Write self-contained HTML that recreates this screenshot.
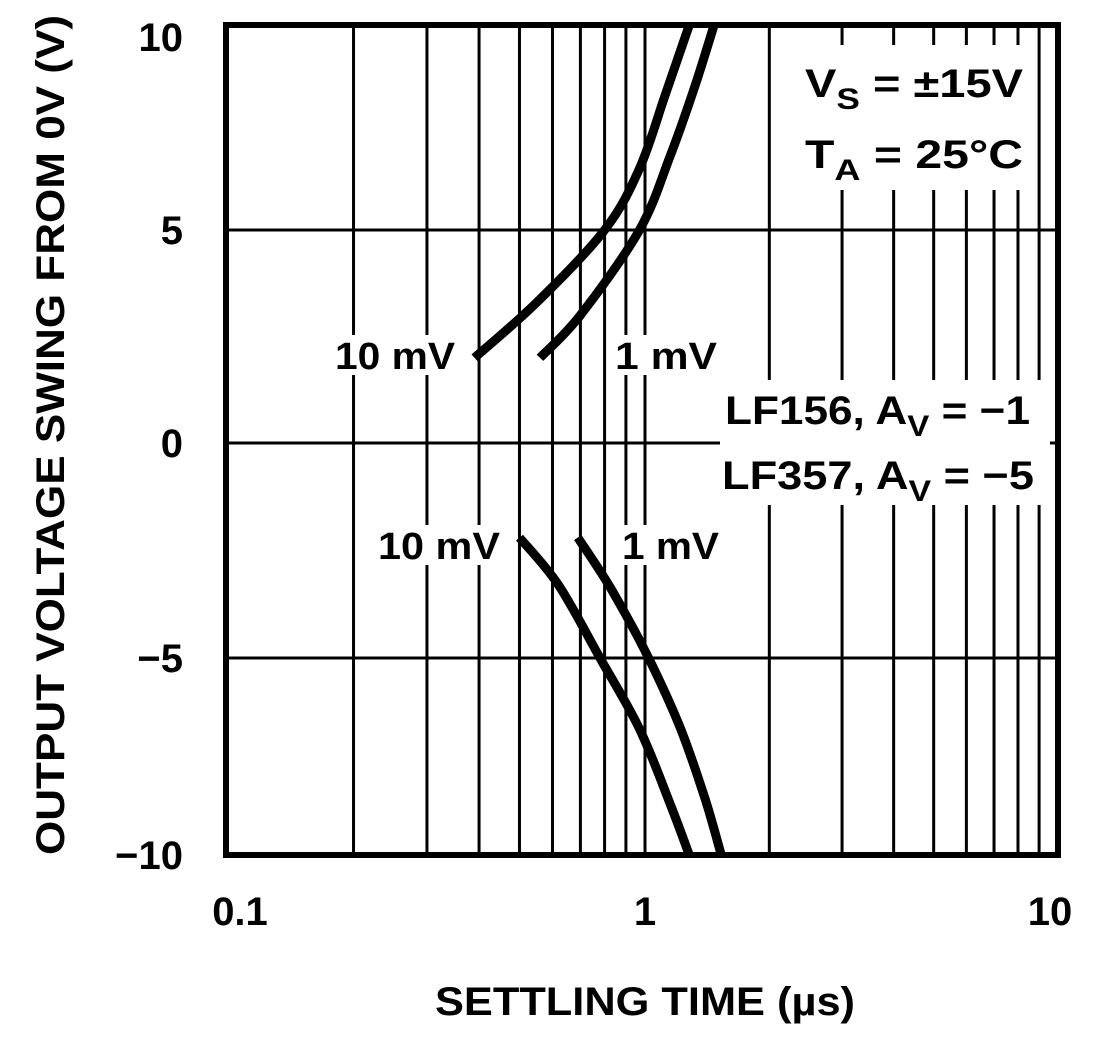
<!DOCTYPE html>
<html><head><meta charset="utf-8"><style>
html,body{margin:0;padding:0;background:#fff;}
svg text{font-family:"Liberation Sans",sans-serif;font-weight:bold;fill:#000;}
</style></head><body>
<svg id="chart" width="1104" height="1037" viewBox="0 0 1104 1037" xmlns="http://www.w3.org/2000/svg">
<g id="grid"></g>
<g id="curves"></g>
<rect x="226" y="25" width="832" height="830" fill="none" stroke="#000" stroke-width="6"/>
<g id="labels"></g>
<g id="annot">
<rect x="800" y="45" width="230" height="145" fill="#fff"/>
<text x="805" y="97" font-size="40" textLength="218" lengthAdjust="spacingAndGlyphs">V<tspan font-size="30" dy="12">S</tspan><tspan dy="-12"> = ±15V</tspan></text>
<text x="805" y="168" font-size="40" textLength="218" lengthAdjust="spacingAndGlyphs">T<tspan font-size="30" dy="12">A</tspan><tspan dy="-12"> = 25°C</tspan></text>
<rect x="720" y="380" width="330" height="125" fill="#fff"/>
<text x="725" y="424" font-size="40" textLength="305" lengthAdjust="spacingAndGlyphs">LF156, A<tspan font-size="30" dy="12">V</tspan><tspan dy="-12"> = −1</tspan></text>
<text x="722" y="489" font-size="40" textLength="312" lengthAdjust="spacingAndGlyphs">LF357, A<tspan font-size="30" dy="12">V</tspan><tspan dy="-12"> = −5</tspan></text>
<rect x="330" y="335" width="136" height="40" fill="#fff"/>
<text x="335" y="369" font-size="38" textLength="120" lengthAdjust="spacingAndGlyphs">10 mV</text>
<rect x="610" y="335" width="110" height="40" fill="#fff"/>
<text x="615" y="369" font-size="38" textLength="102" lengthAdjust="spacingAndGlyphs">1 mV</text>
<rect x="374" y="525" width="130" height="40" fill="#fff"/>
<text x="378" y="559" font-size="38" textLength="122" lengthAdjust="spacingAndGlyphs">10 mV</text>
<rect x="617" y="525" width="106" height="40" fill="#fff"/>
<text x="622" y="559" font-size="38" textLength="97" lengthAdjust="spacingAndGlyphs">1 mV</text>
</g>
<text x="645" y="1015" font-size="40" text-anchor="middle" textLength="420" lengthAdjust="spacingAndGlyphs">SETTLING TIME (µs)</text>
<text transform="translate(64,435) rotate(-90)" font-size="40" text-anchor="middle" textLength="840" lengthAdjust="spacingAndGlyphs">OUTPUT VOLTAGE SWING FROM 0V (V)</text>
</svg>
<script>
const xTicks = [0.1, 1, 10];
const xTickLabels = ["0.1", "1", "10"];
const yTicks = [10, 5, 0, -5, -10];
const yTickLabels = ["10", "5", "0", "−5", "−10"];
const minorX = [0.2,0.3,0.4,0.5,0.6,0.7,0.8,0.9,1,2,3,4,5,6,7,8,9];
// curve data: settling time (µs) vs output swing (V)
const up10t = [0.39, 0.55, 0.80, 0.97, 1.12, 1.28];
const up10v = [2, 3.3, 5, 6.5, 8.3, 10];
const up1t = [0.56, 0.70, 0.97, 1.15, 1.32, 1.47];
const up1v = [2, 3, 5, 6.8, 8.5, 10];
const lo10t = [0.50, 0.62, 0.78, 0.97, 1.15, 1.28];
const lo10v = [-2.2, -3.3, -5, -6.8, -8.7, -10];
const lo1t = [0.69, 0.83, 1.02, 1.22, 1.40, 1.53];
const lo1v = [-2.2, -3.4, -5, -6.8, -8.6, -10];

const NS="http://www.w3.org/2000/svg";
function X(t){const l=Math.log10(t); return l<0 ? 645+l*417 : 645+l*413;}
function Y(v){
  if(v>=5) return 230-(v-5)*41;
  if(v>=0) return 443-v*42.6;
  if(v>=-5) return 443-v*43;
  return 658+(-v-5)*39.4;
}
const grid=document.getElementById('grid'), labels=document.getElementById('labels'), curves=document.getElementById('curves');
function mk(tag,attrs,parent){const e=document.createElementNS(NS,tag);for(const k in attrs)e.setAttribute(k,attrs[k]);parent.appendChild(e);return e;}
minorX.forEach(t=>{
  const l=mk('line',{x1:X(t),x2:X(t),y1:25,y2:855,stroke:'#000','stroke-width':3},grid);
  
  
});
yTicks.forEach((v,i)=>{
  const l=mk('line',{x1:226,x2:1058,y1:Y(v),y2:Y(v),stroke:'#000','stroke-width':3},grid);
  
  
  const t=mk('text',{x:183,y:Y(v)+(i==0?26:14),'font-size':40,'text-anchor':'end'},labels);
  t.textContent=yTickLabels[i];
  
  
});
xTicks.forEach((v,i)=>{
  const t=mk('text',{x:X(v)+(i==0?12:(i==2?-8:0)),y:925,'font-size':40,'text-anchor':'middle'},labels);
  t.textContent=xTickLabels[i];
  
  
});
function curve(ts,vs,name){
  const P=ts.map((t,i)=>[X(t),Y(vs[i])]);
  let d='M'+P[0][0].toFixed(1)+' '+P[0][1].toFixed(1);
  for(let i=0;i<P.length-1;i++){
    const p0=P[Math.max(0,i-1)],p1=P[i],p2=P[i+1],p3=P[Math.min(P.length-1,i+2)];
    const c1=[p1[0]+(p2[0]-p0[0])/6,p1[1]+(p2[1]-p0[1])/6];
    const c2=[p2[0]-(p3[0]-p1[0])/6,p2[1]-(p3[1]-p1[1])/6];
    d+=' C'+c1.map(n=>n.toFixed(1)).join(' ')+' '+c2.map(n=>n.toFixed(1)).join(' ')+' '+p2.map(n=>n.toFixed(1)).join(' ');
  }
  const p=mk('path',{d:d,fill:'none',stroke:'#000','stroke-width':9,'stroke-linejoin':'round'},curves);
  
  
}
curve(up10t,up10v,'curve-10mv-positive');
curve(up1t,up1v,'curve-1mv-positive');
curve(lo10t,lo10v,'curve-10mv-negative');
curve(lo1t,lo1v,'curve-1mv-negative');
</script>
</body></html>
